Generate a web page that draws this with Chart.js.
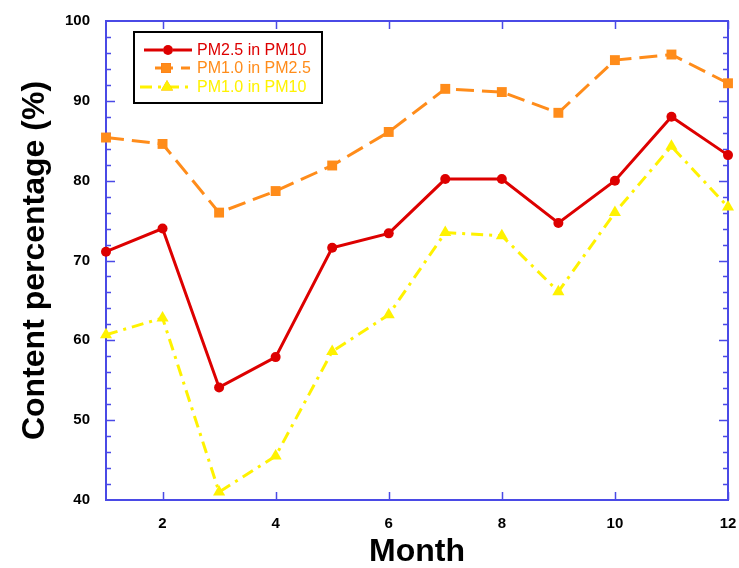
<!DOCTYPE html>
<html>
<head>
<meta charset="utf-8">
<script src="https://cdn.jsdelivr.net/npm/chart.js@4.4.1/dist/chart.umd.min.js"></script>
<style>
  html, body { margin: 0; padding: 0; background: #fff; overflow: hidden; }
  canvas { display: block; }
</style>
</head>
<body>
<canvas id="grafico" width="739" height="568"></canvas>
<script>
const meses = [1, 2, 3, 4, 5, 6, 7, 8, 9, 10, 11, 12];
const pm25EmPm10 = [71.1, 74.0, 54.1, 57.9, 71.6, 73.4, 80.2, 80.2, 74.7, 80.0, 88.0, 83.2];
const pm1EmPm25 = [85.4, 84.6, 76.0, 78.7, 81.9, 86.1, 91.5, 91.1, 88.5, 95.1, 95.8, 92.2];
const pm1EmPm10 = [60.7, 62.8, 41.0, 45.5, 58.6, 63.2, 73.5, 73.1, 66.1, 76.0, 84.3, 76.7];
const ticksX = [2, 4, 6, 8, 10, 12];
const ticksY = [40, 50, 60, 70, 80, 90, 100];

const corAxis = '#4a4ae6';

function pontos(valores) {
  return meses.map((m, i) => ({ x: m, y: valores[i] }));
}

// moldura azul com ticks para dentro
const moldura = {
  id: 'moldura',
  beforeDatasetsDraw(chart) {
    const ctx = chart.ctx;
    const a = chart.chartArea;
    const sx = chart.scales.x, sy = chart.scales.y;
    ctx.save();
    ctx.strokeStyle = corAxis;
    ctx.lineWidth = 1.5;
    ctx.beginPath();
    for (const t of ticksX) {
      const px = Math.round(sx.getPixelForValue(t)) + 0.5;
      ctx.moveTo(px, a.bottom); ctx.lineTo(px, a.bottom - 8);
      ctx.moveTo(px, a.top); ctx.lineTo(px, a.top + 8);
    }
    for (let v = 42; v < 100; v += 2) {
      const py = Math.round(sy.getPixelForValue(v)) + 0.5;
      const len = v % 10 === 0 ? 9 : 5;
      ctx.moveTo(a.left, py); ctx.lineTo(a.left + len, py);
      ctx.moveTo(a.right, py); ctx.lineTo(a.right - len, py);
    }
    ctx.stroke();
    ctx.lineWidth = 2;
    ctx.strokeRect(a.left, a.top, a.right - a.left, a.bottom - a.top);
    ctx.restore();
  }
};

// legenda desenhada dentro do grafico
const legenda = {
  id: 'legenda',
  afterDraw(chart) {
    const ctx = chart.ctx;
    const x0 = 134, y0 = 32, w = 188, h = 71;
    ctx.save();
    ctx.fillStyle = '#fff';
    ctx.fillRect(x0, y0, w, h);
    ctx.strokeStyle = '#000';
    ctx.lineWidth = 2;
    ctx.strokeRect(x0, y0, w, h);
    const linhas = [
      { y: 50, x1: 144, x2: 192, mx: 168 },
      { y: 68, x1: 155, x2: 190, mx: 166 },
      { y: 87, x1: 140, x2: 190, mx: 167 }
    ];
    chart.data.datasets.forEach((ds, i) => {
      const l = linhas[i];
      ctx.strokeStyle = ds.borderColor;
      ctx.lineWidth = ds.borderWidth;
      ctx.setLineDash(ds.borderDash || []);
      ctx.beginPath();
      ctx.moveTo(l.x1, l.y); ctx.lineTo(l.x2, l.y);
      ctx.stroke();
      ctx.setLineDash([]);
      Chart.helpers.drawPoint(ctx, {
        pointStyle: ds.pointStyle, radius: ds.pointRadius, rotation: 0, borderWidth: 0
      }, l.mx, l.y);
      ctx.fillStyle = ds.pointBackgroundColor;
      ctx.fill();
      ctx.font = '16px "Liberation Sans", Arial, sans-serif';
      ctx.textBaseline = 'middle';
      ctx.fillStyle = ds.borderColor;
      ctx.fillText(ds.label, 197, l.y + 1);
    });
    ctx.restore();
  }
};

new Chart(document.getElementById('grafico'), {
  type: 'line',
  data: {
    datasets: [
      {
        label: 'PM2.5 in PM10',
        data: pontos(pm25EmPm10),
        borderColor: '#dd0000',
        backgroundColor: '#dd0000',
        pointBackgroundColor: '#dd0000',
        borderWidth: 3,
        pointStyle: 'circle',
        pointRadius: 5,
        pointBorderWidth: 0,
        clip: false
      },
      {
        label: 'PM1.0 in PM2.5',
        data: pontos(pm1EmPm25),
        borderColor: '#ff8c1a',
        backgroundColor: '#ff8c1a',
        pointBackgroundColor: '#ff8c1a',
        borderWidth: 3,
        borderDash: [18, 8],
        pointStyle: 'rect',
        pointRadius: 7,
        pointBorderWidth: 0,
        clip: false
      },
      {
        label: 'PM1.0 in PM10',
        data: pontos(pm1EmPm10),
        borderColor: '#fff200',
        backgroundColor: '#fff200',
        pointBackgroundColor: '#fff200',
        borderWidth: 3,
        borderDash: [12, 6, 3, 6],
        pointStyle: 'triangle',
        pointRadius: 7,
        pointBorderWidth: 0,
        clip: false
      }
    ]
  },
  options: {
    responsive: false,
    animation: false,
    maintainAspectRatio: false,
    layout: { padding: { top: 21, right: 11, bottom: 0, left: 0 } },
    plugins: { legend: { display: false }, tooltip: { enabled: false } },
    scales: {
      x: {
        type: 'linear',
        min: 1,
        max: 12,
        afterBuildTicks: (s) => { s.ticks = ticksX.map(v => ({ value: v })); },
        afterFit: (s) => { s.height = 68; s.paddingLeft = 0; s.paddingRight = 0; },
        grid: { display: false, drawTicks: false },
        border: { display: false },
        ticks: {
          padding: 15,
          color: '#000',
          font: { family: '"Liberation Sans", Arial, sans-serif', size: 15, weight: 'bold' }
        },
        title: {
          display: true,
          text: 'Month',
          color: '#000',
          padding: { top: 0, bottom: 0 },
          font: { family: '"Liberation Sans", Arial, sans-serif', size: 32, weight: 'bold', lineHeight: 1 }
        }
      },
      y: {
        min: 40,
        max: 100,
        afterBuildTicks: (s) => { s.ticks = ticksY.map(v => ({ value: v })); },
        afterFit: (s) => { s.width = 106; s.paddingTop = 0; s.paddingBottom = 0; },
        grid: { display: false, drawTicks: false },
        border: { display: false },
        ticks: {
          padding: 16,
          color: '#000',
          font: { family: '"Liberation Sans", Arial, sans-serif', size: 15, weight: 'bold' }
        },
        title: {
          display: true,
          text: 'Content percentage (%)',
          color: '#000',
          padding: { top: 19, bottom: 0 },
          font: { family: '"Liberation Sans", Arial, sans-serif', size: 32, weight: 'bold', lineHeight: 1 }
        }
      }
    }
  },
  plugins: [moldura, legenda]
});
</script>
</body>
</html>
